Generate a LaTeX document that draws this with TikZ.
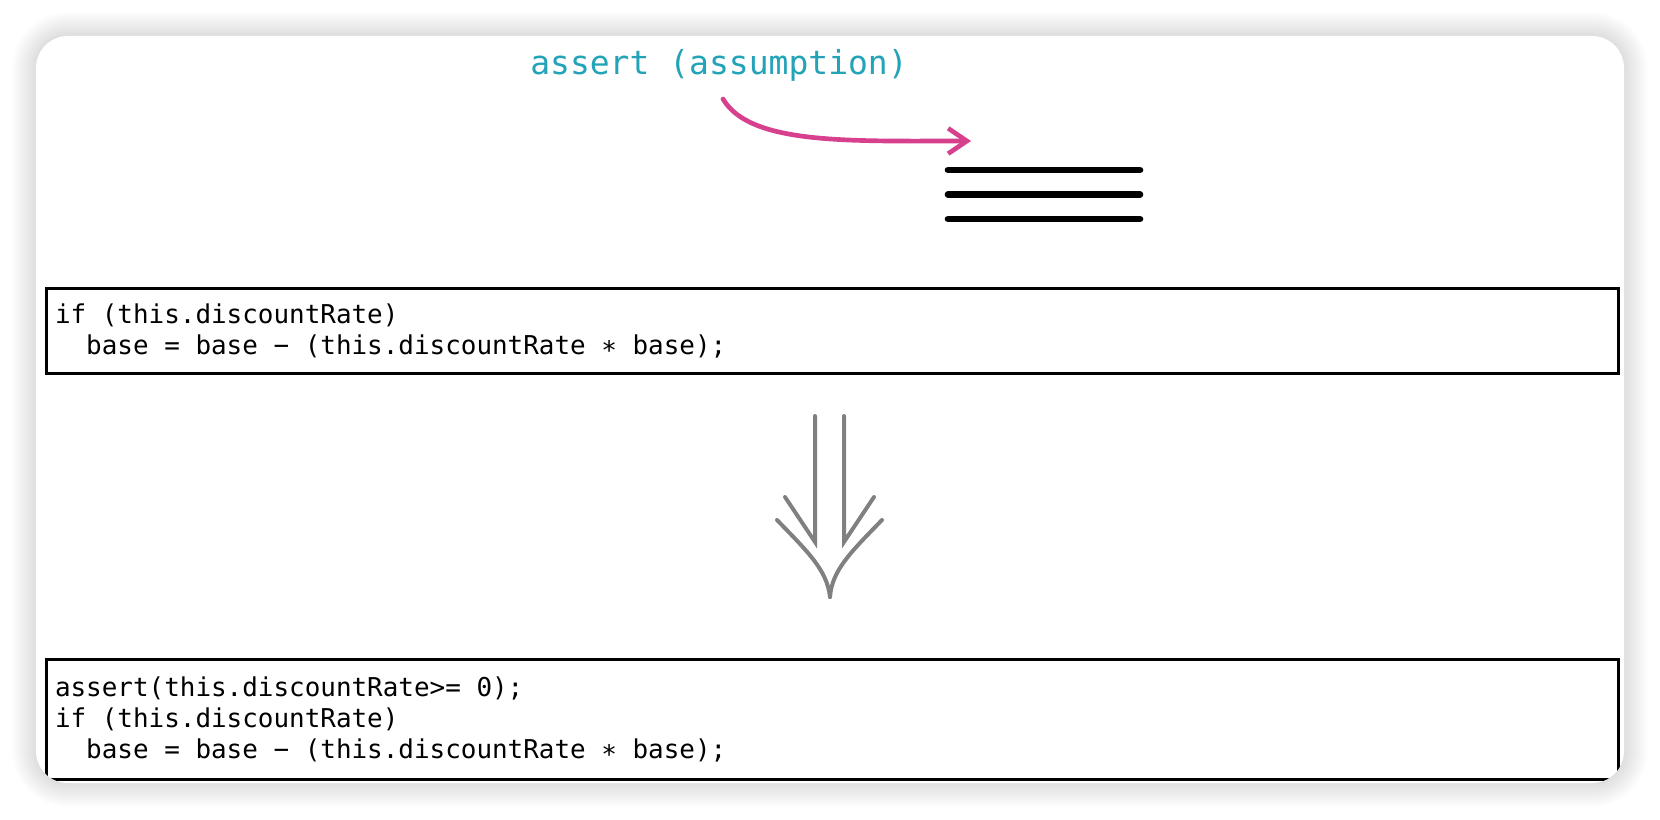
\documentclass[tikz,border=0pt]{standalone}
\usepackage{fontspec}
\setmonofont{DejaVu Sans Mono}
\usetikzlibrary{arrows.meta}
\definecolor{assertteal}{RGB}{34,163,184}
\definecolor{assertpink}{RGB}{214,64,140}
\definecolor{shaftgray}{RGB}{128,128,128}
\newcommand{\codeindent}{\hspace*{1.204em}}
\tikzset{
  codebox/.style={draw, line width=2pt, anchor=north west, inner xsep=6.5pt, inner ysep=0pt,
    text width=1166pt, align=left, font=\ttfamily\fontsize{19.45}{23.25}\selectfont,
    execute at begin node={\spaceskip=0.602em\relax\xspaceskip=0.602em\relax}},
  assumptionlabel/.style={anchor=base west, inner sep=0pt, text=assertteal,
    font=\ttfamily\fontsize{24.75}{30}\selectfont},
  hookarrow/.style={draw=assertpink, line width=3.5pt, line cap=round,
    -{Straight Barb[length=14pt, width=19pt, line width=3.5pt]}},
  codeline/.style={line width=5pt, line cap=round},
  doubleshaft/.style={draw=shaftgray, line width=3pt, line cap=round}
}
\begin{document}
\begin{tikzpicture}[x=0.75pt, y=-0.75pt]
    \useasboundingbox (0,0) rectangle (1660,820);
    \fill[white] (0,0) rectangle (1660,820);
    \foreach \s [evaluate=\s as \d using 1.5*\s, evaluate=\s as \r using (32+1.5*\s)*0.75] in {1,...,16}
        \fill[black, opacity=0.009, rounded corners=\r pt] (36-\d,36-\d) rectangle (1624+\d,783+\d);
    \fill[white, rounded corners=24pt] (36,36) rectangle (1624,783);

    \node[assumptionlabel] (assumption) at (530,75) {assert (assumption)};
    \coordinate (hookstart) at (723,99);
    \coordinate (hooktip) at (971,141);
    \draw[hookarrow] (hookstart) .. controls (750,145) and (850,141) .. (hooktip);

    \draw[codeline] (948,170) -- (1140,170);
    \draw[codeline] (948,194.5) -- (1140,194.5);
    \draw[codeline] (948,219) -- (1140,219);

    \begin{scope}
    \clip[rounded corners=24pt] (36,36) rectangle (1624,783);
    \node[codebox, minimum height=63.75pt] (before) at (45,287)
        {if (this.discountRate)\\\codeindent base = base − (this.discountRate ∗ base);};
    \node[codebox, minimum height=90pt] (after) at (45,658)
        {assert(this.discountRate>= 0);\\if (this.discountRate)\\\codeindent base = base − (this.discountRate ∗ base);};
    \end{scope}

    \coordinate (leftshaft) at (815,416);
    \coordinate (rightshaft) at (844,416);
    \coordinate (leftfoot) at (815,542);
    \coordinate (rightfoot) at (844,542);
    \coordinate (point) at (830,597);
    \draw[doubleshaft] (leftshaft) -- (leftfoot) -- (785,497);
    \draw[doubleshaft] (rightshaft) -- (rightfoot) -- (874,497);
    \draw[doubleshaft] (777,520) .. controls (808,552) and (827,570) .. (point);
    \draw[doubleshaft] (882,520) .. controls (851,552) and (832,570) .. (point);
\end{tikzpicture}
\end{document}
